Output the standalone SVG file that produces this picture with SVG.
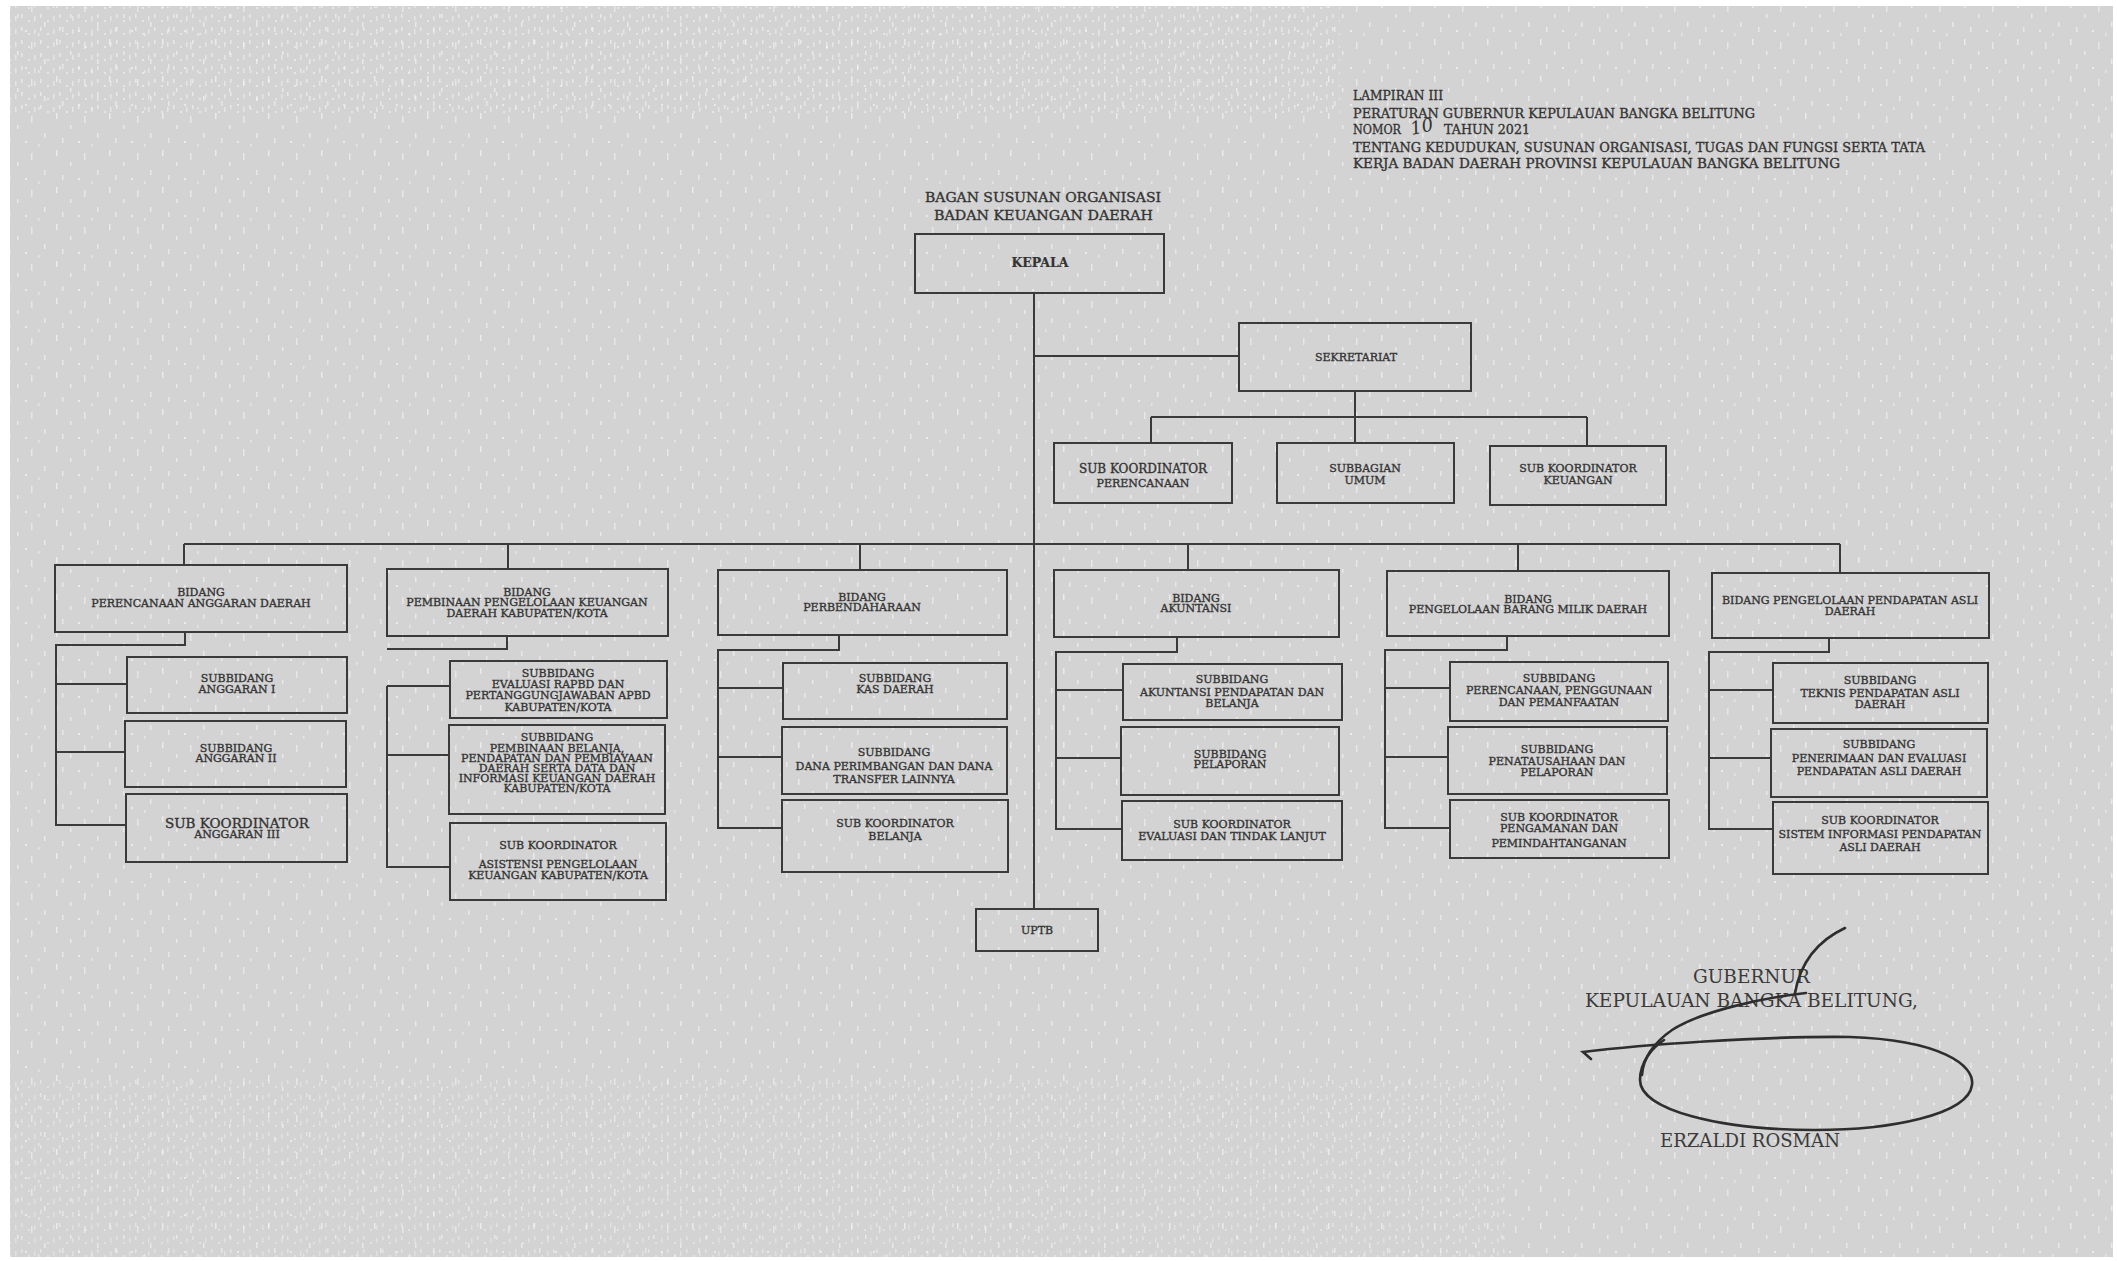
<svg xmlns="http://www.w3.org/2000/svg" width="2117" height="1261" viewBox="0 0 2117 1261">
<defs>
<style>
.box{fill:none;stroke:#3a3a3a;stroke-width:2}
.t{font-family:"DejaVu Serif","Liberation Serif",serif;font-size:11px;fill:#333;stroke:#333;stroke-width:0.35;text-anchor:middle}
.tl{font-size:12px}
.tx{font-size:13.5px}
.k{font-size:12.5px;font-weight:bold;stroke-width:0.2}
.h{font-family:"DejaVu Serif","Liberation Serif",serif;font-size:13px;fill:#333;stroke:#333;stroke-width:0.35}
.s{font-family:"DejaVu Serif","Liberation Serif",serif;font-size:19px;fill:#3a3a3a}
.conn path{fill:none;stroke:#3a3a3a;stroke-width:2}
.sig{fill:none;stroke:#2e2e2e;stroke-width:2.6;stroke-linecap:round}
</style>
<pattern id="speck" width="53" height="37" patternUnits="userSpaceOnUse">
<rect x="3" y="2" width="1.5" height="6" fill="#fff" opacity="0.55"/>
<rect x="17" y="14" width="1.5" height="4" fill="#fff" opacity="0.5"/>
<rect x="31" y="5" width="1.5" height="7" fill="#fff" opacity="0.45"/>
<rect x="44" y="22" width="1.5" height="5" fill="#fff" opacity="0.5"/>
<rect x="9" y="27" width="1.5" height="5" fill="#fff" opacity="0.45"/>
<rect x="25" y="30" width="2" height="2" fill="#fff" opacity="0.5"/>
<rect x="38" y="33" width="1.5" height="3" fill="#fff" opacity="0.4"/>
</pattern>
<pattern id="speck2" width="19" height="13" patternUnits="userSpaceOnUse">
<rect x="2" y="1" width="1.5" height="4" fill="#fff" opacity="0.6"/>
<rect x="9" y="7" width="2" height="2" fill="#fff" opacity="0.55"/>
<rect x="15" y="3" width="1.5" height="5" fill="#fff" opacity="0.5"/>
</pattern>
</defs>
<rect x="0" y="0" width="2117" height="1261" fill="#ffffff"/>
<rect x="10" y="6" width="2103" height="1251" fill="#d3d3d3"/>
<rect x="10" y="6" width="2103" height="1251" fill="url(#speck)"/>
<rect x="10" y="6" width="1330" height="110" fill="url(#speck2)" opacity="0.8"/>
<rect x="10" y="1080" width="1500" height="177" fill="url(#speck2)" opacity="0.6"/>

<g id="header">
<text class="h" x="1353" y="99.5" textLength="90" lengthAdjust="spacingAndGlyphs">LAMPIRAN III</text>
<text class="h" x="1353" y="117.5" textLength="402" lengthAdjust="spacingAndGlyphs">PERATURAN GUBERNUR KEPULAUAN BANGKA BELITUNG</text>
<text class="h" x="1353" y="133.5" textLength="48" lengthAdjust="spacingAndGlyphs">NOMOR</text>
<text x="1410" y="133" font-family="DejaVu Serif, serif" font-style="italic" font-size="18" fill="#333" transform="rotate(-12 1420 126)">10</text>
<text class="h" x="1444" y="133.5" textLength="86" lengthAdjust="spacingAndGlyphs">TAHUN 2021</text>
<text class="h" x="1353" y="151.5" textLength="572" lengthAdjust="spacingAndGlyphs">TENTANG KEDUDUKAN, SUSUNAN ORGANISASI, TUGAS DAN FUNGSI SERTA TATA</text>
<text class="h" x="1353" y="167.5" textLength="487" lengthAdjust="spacingAndGlyphs">KERJA BADAN DAERAH PROVINSI KEPULAUAN BANGKA BELITUNG</text>
</g>

<g id="title">
<text class="h" x="925" y="202" font-size="14.3" textLength="236" lengthAdjust="spacingAndGlyphs">BAGAN SUSUNAN ORGANISASI</text>
<text class="h" x="934" y="220" font-size="14.3" textLength="219" lengthAdjust="spacingAndGlyphs">BADAN KEUANGAN DAERAH</text>
</g>

<g class="conn" id="connectors">
<path d="M1034 293 V909"/>
<path d="M1034 356 H1239"/>
<path d="M1355 391 V443"/>
<path d="M1151 417 H1587"/>
<path d="M1151 417 V443"/>
<path d="M1587 417 V446"/>
<path d="M184 544 H1840"/>
<path d="M184 544 V565"/>
<path d="M508 544 V569"/>
<path d="M860 544 V570"/>
<path d="M1188 544 V570"/>
<path d="M1518 544 V571"/>
<path d="M1840 544 V573"/>
<path d="M185 632 V645 H56 V825 H126"/>
<path d="M56 684 H127"/>
<path d="M56 752 H125"/>
<path d="M507 636 V649 H387"/>
<path d="M387 686 V867 H450"/>
<path d="M387 686 H450"/>
<path d="M387 755 H449"/>
<path d="M839 635 V650 H718 V828 H782"/>
<path d="M718 688 H783"/>
<path d="M718 757 H782"/>
<path d="M1177 637 V652 H1056 V829 H1122"/>
<path d="M1056 690 H1123"/>
<path d="M1056 758 H1121"/>
<path d="M1507 636 V650 H1385 V828 H1450"/>
<path d="M1385 688 H1450"/>
<path d="M1385 757 H1448"/>
<path d="M1829 638 V652 H1709 V829 H1773"/>
<path d="M1709 690 H1773"/>
<path d="M1709 758 H1771"/>
</g>

<g id="kepala"><rect class="box" x="915" y="234" width="249" height="59"/>
<text class="t k" x="1040" y="267">KEPALA</text></g>

<g id="sekretariat"><rect class="box" x="1239" y="323" width="232" height="68"/>
<text class="t" x="1356" y="361">SEKRETARIAT</text></g>

<g id="sk-perencanaan"><rect class="box" x="1054" y="443" width="178" height="60"/>
<text class="t tl" x="1143" y="473">SUB KOORDINATOR</text>
<text class="t" x="1143" y="487">PERENCANAAN</text></g>

<g id="subbagian-umum"><rect class="box" x="1277" y="443" width="177" height="60"/>
<text class="t" x="1365" y="472">SUBBAGIAN</text>
<text class="t" x="1365" y="484">UMUM</text></g>

<g id="sk-keuangan"><rect class="box" x="1490" y="446" width="176" height="59"/>
<text class="t" x="1578" y="472">SUB KOORDINATOR</text>
<text class="t" x="1578" y="484">KEUANGAN</text></g>

<g id="bidang-1"><rect class="box" x="55" y="565" width="292" height="67"/>
<text class="t" x="201" y="596">BIDANG</text>
<text class="t" x="201" y="607">PERENCANAAN ANGGARAN DAERAH</text></g>
<g id="sub-1-1"><rect class="box" x="127" y="657" width="220" height="56"/>
<text class="t" x="237" y="682">SUBBIDANG</text>
<text class="t" x="237" y="693">ANGGARAN I</text></g>
<g id="sub-1-2"><rect class="box" x="125" y="721" width="221" height="66"/>
<text class="t" x="236" y="752">SUBBIDANG</text>
<text class="t" x="236" y="762">ANGGARAN II</text></g>
<g id="sub-1-3"><rect class="box" x="126" y="794" width="221" height="68"/>
<text class="t tx" x="237" y="828">SUB KOORDINATOR</text>
<text class="t" x="237" y="838">ANGGARAN III</text></g>

<g id="bidang-2"><rect class="box" x="387" y="569" width="281" height="67"/>
<text class="t" x="527" y="596">BIDANG</text>
<text class="t" x="527" y="606">PEMBINAAN PENGELOLAAN KEUANGAN</text>
<text class="t" x="527" y="617">DAERAH KABUPATEN/KOTA</text></g>
<g id="sub-2-1"><rect class="box" x="450" y="661" width="217" height="57"/>
<text class="t" x="558" y="677">SUBBIDANG</text>
<text class="t" x="558" y="688">EVALUASI RAPBD DAN</text>
<text class="t" x="558" y="699">PERTANGGUNGJAWABAN APBD</text>
<text class="t" x="558" y="711">KABUPATEN/KOTA</text></g>
<g id="sub-2-2"><rect class="box" x="449" y="725" width="216" height="89"/>
<text class="t" x="557" y="741">SUBBIDANG</text>
<text class="t" x="557" y="751.5">PEMBINAAN BELANJA,</text>
<text class="t" x="557" y="762">PENDAPATAN DAN PEMBIAYAAN</text>
<text class="t" x="557" y="772">DAERAH SERTA DATA DAN</text>
<text class="t" x="557" y="782">INFORMASI KEUANGAN DAERAH</text>
<text class="t" x="557" y="792">KABUPATEN/KOTA</text></g>
<g id="sub-2-3"><rect class="box" x="450" y="823" width="216" height="77"/>
<text class="t" x="558" y="849">SUB KOORDINATOR</text>
<text class="t" x="558" y="868">ASISTENSI PENGELOLAAN</text>
<text class="t" x="558" y="879">KEUANGAN KABUPATEN/KOTA</text></g>

<g id="bidang-3"><rect class="box" x="718" y="570" width="289" height="65"/>
<text class="t" x="862" y="601">BIDANG</text>
<text class="t" x="862" y="611">PERBENDAHARAAN</text></g>
<g id="sub-3-1"><rect class="box" x="783" y="663" width="224" height="56"/>
<text class="t" x="895" y="682">SUBBIDANG</text>
<text class="t" x="895" y="693">KAS DAERAH</text></g>
<g id="sub-3-2"><rect class="box" x="782" y="727" width="225" height="67"/>
<text class="t" x="894" y="756">SUBBIDANG</text>
<text class="t" x="894" y="770">DANA PERIMBANGAN DAN DANA</text>
<text class="t" x="894" y="783">TRANSFER LAINNYA</text></g>
<g id="sub-3-3"><rect class="box" x="782" y="800" width="226" height="72"/>
<text class="t" x="895" y="827">SUB KOORDINATOR</text>
<text class="t" x="895" y="840">BELANJA</text></g>

<g id="bidang-4"><rect class="box" x="1054" y="570" width="285" height="67"/>
<text class="t" x="1196" y="602">BIDANG</text>
<text class="t" x="1196" y="612">AKUNTANSI</text></g>
<g id="sub-4-1"><rect class="box" x="1123" y="664" width="219" height="56"/>
<text class="t" x="1232" y="683">SUBBIDANG</text>
<text class="t" x="1232" y="696">AKUNTANSI PENDAPATAN DAN</text>
<text class="t" x="1232" y="707">BELANJA</text></g>
<g id="sub-4-2"><rect class="box" x="1121" y="727" width="218" height="68"/>
<text class="t" x="1230" y="758">SUBBIDANG</text>
<text class="t" x="1230" y="768">PELAPORAN</text></g>
<g id="sub-4-3"><rect class="box" x="1122" y="801" width="220" height="59"/>
<text class="t" x="1232" y="828">SUB KOORDINATOR</text>
<text class="t" x="1232" y="840">EVALUASI DAN TINDAK LANJUT</text></g>

<g id="bidang-5"><rect class="box" x="1387" y="571" width="282" height="65"/>
<text class="t" x="1528" y="603">BIDANG</text>
<text class="t" x="1528" y="613">PENGELOLAAN BARANG MILIK DAERAH</text></g>
<g id="sub-5-1"><rect class="box" x="1450" y="662" width="218" height="59"/>
<text class="t" x="1559" y="682">SUBBIDANG</text>
<text class="t" x="1559" y="694">PERENCANAAN, PENGGUNAAN</text>
<text class="t" x="1559" y="706">DAN PEMANFAATAN</text></g>
<g id="sub-5-2"><rect class="box" x="1448" y="727" width="219" height="67"/>
<text class="t" x="1557" y="753">SUBBIDANG</text>
<text class="t" x="1557" y="765">PENATAUSAHAAN DAN</text>
<text class="t" x="1557" y="776">PELAPORAN</text></g>
<g id="sub-5-3"><rect class="box" x="1450" y="800" width="219" height="58"/>
<text class="t" x="1559" y="821">SUB KOORDINATOR</text>
<text class="t" x="1559" y="832">PENGAMANAN DAN</text>
<text class="t" x="1559" y="847">PEMINDAHTANGANAN</text></g>

<g id="bidang-6"><rect class="box" x="1712" y="573" width="277" height="65"/>
<text class="t" x="1850" y="604">BIDANG PENGELOLAAN PENDAPATAN ASLI</text>
<text class="t" x="1850" y="615">DAERAH</text></g>
<g id="sub-6-1"><rect class="box" x="1773" y="663" width="215" height="60"/>
<text class="t" x="1880" y="684">SUBBIDANG</text>
<text class="t" x="1880" y="697">TEKNIS PENDAPATAN ASLI</text>
<text class="t" x="1880" y="708">DAERAH</text></g>
<g id="sub-6-2"><rect class="box" x="1771" y="729" width="216" height="68"/>
<text class="t" x="1879" y="748">SUBBIDANG</text>
<text class="t" x="1879" y="762">PENERIMAAN DAN EVALUASI</text>
<text class="t" x="1879" y="775">PENDAPATAN ASLI DAERAH</text></g>
<g id="sub-6-3"><rect class="box" x="1773" y="802" width="215" height="72"/>
<text class="t" x="1880" y="824">SUB KOORDINATOR</text>
<text class="t" x="1880" y="838">SISTEM INFORMASI PENDAPATAN</text>
<text class="t" x="1880" y="851">ASLI DAERAH</text></g>

<g id="uptb"><rect class="box" x="976" y="909" width="122" height="42"/>
<text class="t" x="1037" y="934">UPTB</text></g>

<g id="signature">
<text class="s" x="1693" y="983" textLength="117" lengthAdjust="spacingAndGlyphs">GUBERNUR</text>
<text class="s" x="1585" y="1007" textLength="333" lengthAdjust="spacingAndGlyphs">KEPULAUAN BANGKA BELITUNG,</text>
<text class="s" x="1660" y="1147" textLength="180" lengthAdjust="spacingAndGlyphs">ERZALDI ROSMAN</text>
<path class="sig" d="M1591 1059 L1583 1052 C1640 1045 1760 1036 1850 1037 C1940 1040 1975 1065 1972 1085 C1968 1115 1890 1130 1815 1130 C1720 1130 1640 1110 1640 1080 C1640 1062 1652 1048 1664 1040"/>
<path class="sig" d="M1845 928 C1815 942 1800 965 1795 993 M1806 993 C1760 998 1700 1012 1672 1030 C1652 1044 1643 1060 1642 1075"/>
</g>
</svg>
